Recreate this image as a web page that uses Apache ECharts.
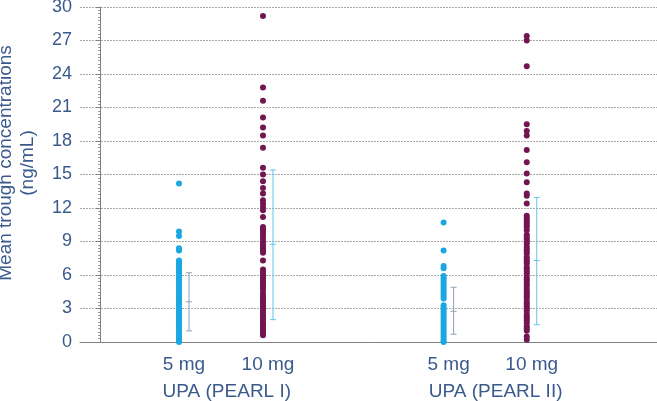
<!DOCTYPE html>
<html>
<head>
<meta charset="utf-8">
<script src="https://cdn.jsdelivr.net/npm/echarts@6/dist/echarts.min.js"></script>
<style>html,body{margin:0;padding:0;background:#fff}#c{width:657px;height:401px}</style>
</head>
<body>
<div id="c"></div>
<script>
// ---- data ----
const doseLabels = ['5 mg', '10 mg', '5 mg', '10 mg'];
const studyLabels = ['UPA (PEARL I)', 'UPA (PEARL II)'];
const yTicks = [0, 3, 6, 9, 12, 15, 18, 21, 24, 27, 30];

const pearl1_5mg = [14.2, 9.9, 9.5, 8.4, 8.2, 7.3, 7.2, 7.0, 6.8, 6.7, 6.5, 6.3, 6.2, 6.0, 5.8, 5.6, 5.5, 5.3, 5.1, 4.9, 4.8, 4.6, 4.4, 4.2, 4.1, 3.9, 3.7, 3.5, 3.4, 3.2, 3.0, 2.8, 2.7, 2.5, 2.3, 2.1, 2.0, 1.8, 1.6, 1.4, 1.3, 1.1, 0.9, 0.7, 0.6, 0.4, 0.2, 0.1, 0.0];
const pearl1_10mg = [29.2, 22.8, 21.6, 20.1, 19.2, 18.5, 17.4, 15.6, 15.0, 14.4, 13.8, 13.3, 12.7, 12.4, 12.1, 11.8, 11.2, 10.3, 10.1, 9.9, 9.7, 9.5, 9.3, 9.0, 8.8, 8.6, 8.4, 8.2, 8.0, 7.3, 6.5, 6.3, 6.1, 5.9, 5.7, 5.5, 5.3, 5.1, 4.9, 4.7, 4.4, 4.2, 4.0, 3.8, 3.6, 3.4, 3.2, 3.0, 2.8, 2.6, 2.4, 2.2, 2.0, 1.8, 1.6, 1.4, 1.2, 1.0, 0.8, 0.6];
const pearl2_5mg = [10.7, 8.2, 6.8, 6.6, 5.9, 5.7, 5.5, 5.3, 5.1, 4.9, 4.7, 4.5, 4.3, 4.1, 3.9, 3.3, 3.1, 2.9, 2.7, 2.5, 2.3, 2.1, 1.9, 1.7, 1.5, 1.3, 1.1, 0.9, 0.7, 0.5, 0.3, 0.1, 0.0];
const pearl2_10mg = [27.4, 27.0, 24.7, 19.5, 18.9, 18.5, 17.2, 16.1, 15.1, 14.3, 13.3, 13.1, 12.4, 11.3, 11.1, 10.9, 10.7, 10.5, 10.3, 10.0, 9.6, 9.4, 9.2, 9.0, 8.8, 8.5, 8.3, 8.1, 7.9, 7.6, 7.4, 7.2, 7.0, 6.7, 6.5, 6.3, 6.1, 5.8, 5.6, 5.4, 5.2, 5.0, 4.7, 4.5, 4.3, 4.1, 3.9, 3.6, 3.4, 3.2, 3.0, 2.8, 2.5, 2.3, 2.1, 1.9, 1.7, 1.4, 1.2, 1.0, 0.5, 0.2];

const means = [3.6, 8.75, 2.75, 7.3];
const lows  = [1.0, 2.0, 0.7, 1.55];
const highs = [6.2, 15.4, 4.9, 12.95];

// x positions of the four dose groups on the value axis
const groupPos = [1, 2, 4.15, 5.14];
const studyPos = [1.51, 4.71];

// ---- chart ----
const font = 'Liberation Sans, Arial, sans-serif';
const txt = '#3b5a8c';
const chart = echarts.init(document.getElementById('c'));

const colors = ['#1ba8e2', '#721652', '#1ba8e2', '#721652'];
const barColors = ['#8aa1bb', '#62c4ea', '#8aa1bb', '#62c4ea'];
const groups = [pearl1_5mg, pearl1_10mg, pearl2_5mg, pearl2_10mg];

const series = groups.map((vals, i) => ({
  type: 'scatter',
  xAxisIndex: 0,
  data: vals.map(v => [groupPos[i], v]),
  symbol: 'circle',
  symbolSize: 6,
  symbolOffset: [-5, 0],
  itemStyle: { color: colors[i], opacity: 1 },
  silent: true,
  z: 3
}));

series.push({
  type: 'custom',
  xAxisIndex: 0,
  data: groupPos.map((x, i) => [x, means[i], lows[i], highs[i], i]),
  renderItem: function (params, api) {
    const x = api.value(0);
    const pm = api.coord([x, api.value(1)]);
    const pl = api.coord([x, api.value(2)]);
    const ph = api.coord([x, api.value(3)]);
    const cx = pm[0] + 5;
    const c = barColors[api.value(4)];
    const st = { stroke: c, lineWidth: 1 };
    const w = 3;
    return {
      type: 'group',
      children: [
        { type: 'line', shape: { x1: cx, y1: ph[1], x2: cx, y2: pl[1] }, style: st },
        { type: 'line', shape: { x1: cx - w, y1: ph[1], x2: cx + w, y2: ph[1] }, style: st },
        { type: 'line', shape: { x1: cx - w, y1: pl[1], x2: cx + w, y2: pl[1] }, style: st },
        { type: 'line', shape: { x1: cx - w, y1: pm[1], x2: cx + w, y2: pm[1] }, style: st }
      ]
    };
  },
  z: 2,
  silent: true
});

chart.setOption({
  animation: false,
  grid: { left: 80, right: 0, top: 7, bottom: 59, containLabel: false, outerBoundsMode: 'none' },
  xAxis: [
    {
      type: 'value', min: -0.238, max: 6.631,
      axisLine: { show: true, lineStyle: { color: '#808080', width: 1 } },
      axisTick: { show: false },
      splitLine: { show: false },
      axisLabel: {
        customValues: groupPos,
        formatter: function (v) { const k = groupPos.indexOf(v); return k >= 0 ? doseLabels[k] : ''; },
        color: txt, fontSize: 19, fontFamily: font, margin: 13
      }
    },
    {
      type: 'value', min: -0.238, max: 6.631, position: 'bottom', offset: 27,
      axisLine: { show: false }, axisTick: { show: false }, splitLine: { show: false },
      axisLabel: {
        customValues: studyPos,
        formatter: function (v) { const k = studyPos.indexOf(v); return k >= 0 ? studyLabels[k] : ''; },
        color: txt, fontSize: 19, fontFamily: font, margin: 13
      }
    }
  ],
  yAxis: {
    type: 'value', min: 0, max: 30, interval: 3,
    name: 'Mean trough concentrations\n(ng/mL)',
    nameLocation: 'middle', nameGap: 41,
    nameTextStyle: { color: txt, fontSize: 19, fontFamily: font, lineHeight: 22, padding: [0, 0, 0, 23] },
    axisLine: { show: true, lineStyle: { color: '#808080', width: 1 } },
    axisTick: { show: true, length: 4, lineStyle: { color: '#808080' } },
    minorTick: { show: true, splitNumber: 10, length: 2, lineStyle: { color: '#9a9a9a' } },
    axisLabel: {
      color: txt, fontSize: 18, fontFamily: font, margin: 8,
      formatter: function (v) { return yTicks.indexOf(v) >= 0 ? String(v) : ''; }
    },
    splitLine: { show: true, lineStyle: { color: '#a8a8a8', type: [2, 1], width: 1 } }
  },
  series: series
});
</script>
</body>
</html>
